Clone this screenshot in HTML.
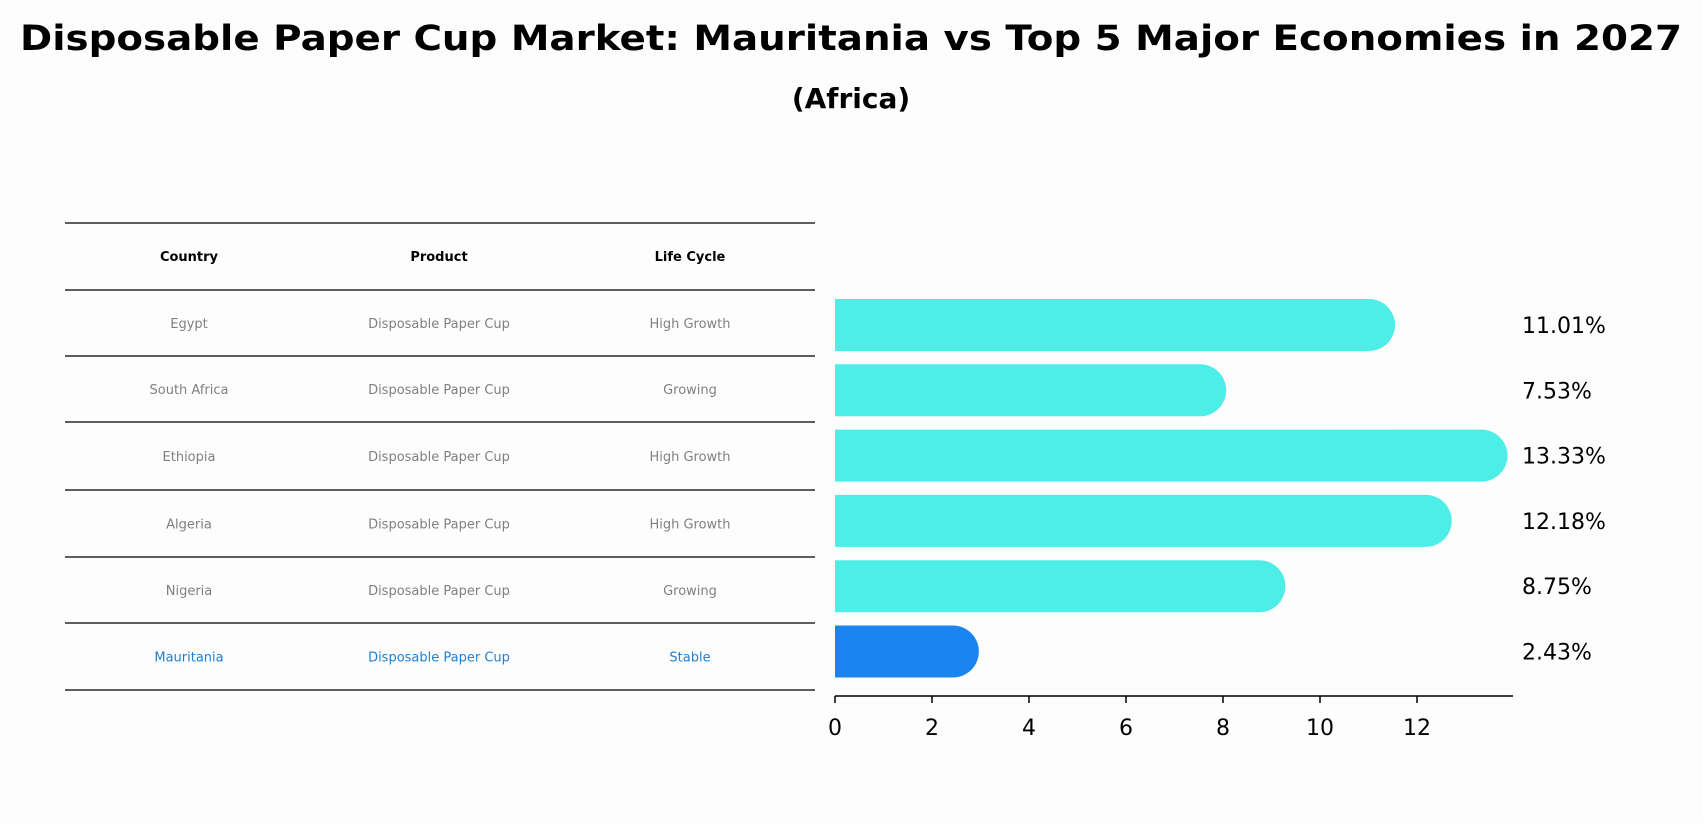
<!DOCTYPE html>
<html><head><meta charset="utf-8"><style>
body{margin:0;background:#fdfdfd;}
svg{display:block;font-family:"DejaVu Sans","Liberation Sans",sans-serif;}
</style></head><body>
<svg id="chart" width="1703" height="823" viewBox="0 0 1703 823">
<rect width="1703" height="823" fill="#fdfdfd"/>
<text x="851" y="50" text-anchor="middle" font-size="35" font-weight="bold" textLength="1662" lengthAdjust="spacingAndGlyphs">Disposable Paper Cup Market: Mauritania vs Top 5 Major Economies in 2027</text>
<text x="851" y="108" text-anchor="middle" font-size="28" font-weight="bold">(Africa)</text>
<g id="table"></g>
<g id="bars"></g>
</svg>
<script>
const countries = ["Egypt","South Africa","Ethiopia","Algeria","Nigeria","Mauritania"];
const products = ["Disposable Paper Cup","Disposable Paper Cup","Disposable Paper Cup","Disposable Paper Cup","Disposable Paper Cup","Disposable Paper Cup"];
const lifeCycles = ["High Growth","Growing","High Growth","High Growth","Growing","Stable"];
const values = [11.01,7.53,13.33,12.18,8.75,2.43];
const xTicks = [0,2,4,6,8,10,12];

const NS="http://www.w3.org/2000/svg";
function mk(tag,attrs,parent){const e=document.createElementNS(NS,tag);for(const k in attrs)e.setAttribute(k,attrs[k]);parent.appendChild(e);return e;}
const x0=835, unit=48.5;
const xs=v=>x0+v*unit;
const rowY=i=>325+i*65.3;
const barH=52;

// table
const tg=document.getElementById('table');
const lineYs=[223,290,356,422,490,557,623,690];
lineYs.forEach((y,i)=>{
  const l=mk('line',{x1:65,x2:815,y1:y,y2:y,stroke:'#000','stroke-width':1.2},tg);
  
  
});
const colX=[189,439,690];
["Country","Product","Life Cycle"].forEach((h,j)=>{
  const t=mk('text',{x:colX[j],y:261,'text-anchor':'middle','font-size':13,'font-weight':'bold'},tg);
  t.textContent=h;
  
  
});
countries.forEach((c,i)=>{
  const y=(lineYs[i+1]+lineYs[i+2])/2+5;
  const col=i===countries.length-1?'#1f7fd0':'#808080';
  [c,products[i],lifeCycles[i]].forEach((s,j)=>{
    const t=mk('text',{x:colX[j],y:y,'text-anchor':'middle','font-size':13,fill:col},tg);
    t.textContent=s;
    
    
  });
});

// bars
const bg=document.getElementById('bars');
values.forEach((v,i)=>{
  const cy=rowY(i);
  const col=i===values.length-1?'#1a85f0':'#4deee8';
  const g=mk('g',{},bg);
  
  
  const r=barH/2;
  const xe=xs(v);
  mk('path',{d:`M${x0},${cy-r} L${xe},${cy-r} A${r},${r} 0 0 1 ${xe},${cy+r} L${x0},${cy+r} Z`,fill:col},g);
  const t=mk('text',{x:1522,y:cy+8,'font-size':22},bg);
  t.textContent=v.toFixed(2)+'%';
  
  
});
const ax=mk('line',{x1:x0,x2:1513,y1:696,y2:696,stroke:'#000','stroke-width':1.5},bg);


xTicks.forEach(v=>{
  const tk=mk('line',{x1:xs(v),x2:xs(v),y1:696,y2:703,stroke:'#000','stroke-width':1.5},bg);
  
  
  const t=mk('text',{x:xs(v),y:735,'text-anchor':'middle','font-size':22},bg);
  t.textContent=v;
  
  
});
</script>
</body></html>
